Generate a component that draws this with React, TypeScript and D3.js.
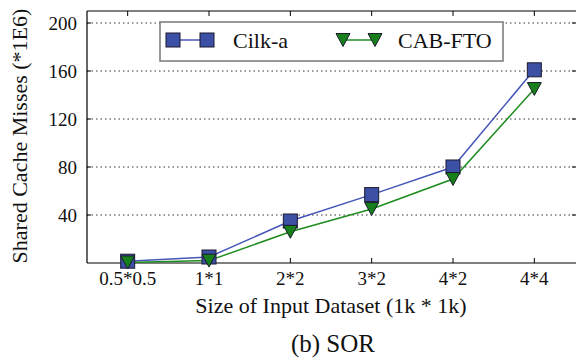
import React from "react";
import * as d3 from "d3";

const categories = ["0.5*0.5", "1*1", "2*2", "3*2", "4*2", "4*4"];
const cilkA = [1.5, 5, 35, 57, 80, 161];
const cabFto = [0.5, 2, 26, 45, 70, 145];
const yTicks = [40, 80, 120, 160, 200];

const W = 576;
const H = 360;
const L = 87;
const R = 576;
const T = 11;
const B = 263;
const FONT = "Liberation Serif";

const BLUE_FILL = "#3C50A6";
const BLUE_LINE = "#4656B8";
const GREEN_FILL = "#17801A";
const GREEN_LINE = "#1E8C1E";
const MARK_STROKE = "#1a1a2e";

const txt = (size: number): React.CSSProperties => ({ fontFamily: FONT, fontSize: size });

function Square({ x, y, s = 14 }: { x: number; y: number; s?: number }) {
  return (
    <rect x={x - s / 2} y={y - s / 2} width={s} height={s} fill={BLUE_FILL} stroke={MARK_STROKE} strokeWidth={1} />
  );
}
function Tri({ x, y, s = 14 }: { x: number; y: number; s?: number }) {
  const h = s * 0.92;
  const p = `${x - s / 2},${y - h / 2} ${x + s / 2},${y - h / 2} ${x},${y + h / 2}`;
  return <polygon points={p} fill={GREEN_FILL} stroke={MARK_STROKE} strokeWidth={1} />;
}

export default function App() {
  const x = d3.scalePoint<string>().domain(categories).range([L, R - 1]).padding(0.5);
  const y = d3.scaleLinear().domain([0, 210]).range([B, T]);
  const line = d3
    .line<number>()
    .x((_, i) => x(categories[i]) as number)
    .y((d) => y(d));

  return (
    <svg width={W} height={H} style={{ position: "absolute", left: 0, top: 0, background: "#fff" }}>
      <rect x={0} y={0} width={W} height={H} fill="#fff" />
      {yTicks.map((t) => (
        <line key={"g" + t} x1={L} x2={R} y1={y(t)} y2={y(t)} stroke="#333" strokeWidth={1} strokeDasharray="1.5,3" />
      ))}
      {/* frame */}
      <line x1={L} x2={R} y1={T} y2={T} stroke="#000" strokeWidth={1.2} />
      <line x1={L} x2={R} y1={B} y2={B} stroke="#000" strokeWidth={1.2} />
      <line x1={L} x2={L} y1={T} y2={B} stroke="#000" strokeWidth={1.2} />
      {/* ticks */}
      {categories.map((c) => (
        <g key={"t" + c}>
          <line x1={x(c)} x2={x(c)} y1={B} y2={B - 5} stroke="#000" strokeWidth={1} />
          <line x1={x(c)} x2={x(c)} y1={T} y2={T + 5} stroke="#000" strokeWidth={1} />
          <text x={x(c)} y={285} style={txt(19)} textAnchor="middle" fill="#111">
            {c}
          </text>
        </g>
      ))}
      {yTicks.map((t) => (
        <g key={"yt" + t}>
          <line x1={R - 4} x2={R} y1={y(t)} y2={y(t)} stroke="#000" strokeWidth={1} />
          <line x1={L} x2={L + 4} y1={y(t)} y2={y(t)} stroke="#000" strokeWidth={1} />
          <text x={77} y={y(t) + 6.5} style={txt(19)} textAnchor="end" fill="#111">
            {t}
          </text>
        </g>
      ))}
      {/* series */}
      <path d={line(cilkA) || ""} fill="none" stroke={BLUE_LINE} strokeWidth={1.5} />
      <path d={line(cabFto) || ""} fill="none" stroke={GREEN_LINE} strokeWidth={1.5} />
      {cilkA.map((v, i) => (
        <Square key={"s" + i} x={x(categories[i]) as number} y={y(v)} />
      ))}
      {cabFto.map((v, i) => (
        <Tri key={"tr" + i} x={x(categories[i]) as number} y={y(v)} />
      ))}
      {/* legend */}
      <rect x={160} y={22} width={343} height={39} fill="#fff" stroke="#777" strokeWidth={1.5} />
      <line x1={173} x2={207} y1={40} y2={40} stroke={BLUE_LINE} strokeWidth={1.5} />
      <Square x={173} y={40} />
      <Square x={207} y={40} />
      <text x={233} y={48} style={txt(22)} fill="#111">
        Cilk-a
      </text>
      <line x1={343} x2={375} y1={40} y2={40} stroke={GREEN_LINE} strokeWidth={1.5} />
      <Tri x={343} y={40} />
      <Tri x={375} y={40} />
      <text x={398} y={48} style={txt(22)} fill="#111">
        CAB-FTO
      </text>
      {/* axis titles */}
      <text x={331} y={313} style={txt(22)} textAnchor="middle" fill="#111">
        Size of Input Dataset (1k * 1k)
      </text>
      <text x={333} y={352} style={txt(25)} textAnchor="middle" fill="#111">
        (b) SOR
      </text>
      <text transform="translate(27,136) rotate(-90)" style={txt(22)} textAnchor="middle" fill="#111">
        Shared Cache Misses (*1E6)
      </text>
    </svg>
  );
}
